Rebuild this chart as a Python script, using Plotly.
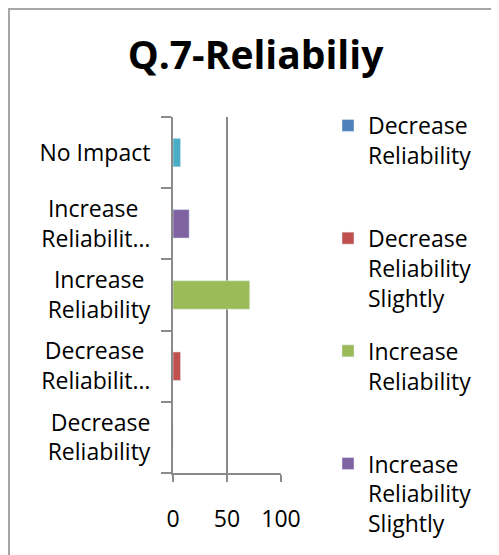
import plotly.graph_objects as go

categories = ["Decrease Reliability", "Decrease Reliability Slightly", "Increase Reliability",
              "Increase Reliability Slightly", "No Impact"]
values = [0, 7, 71, 15, 7]
colors = ["#4F81BD", "#C0504D", "#9BBB59", "#8064A2", "#4BACC6"]
legend_labels = ["Decrease<br>Reliability<br>\u00a0", "Decrease<br>Reliability<br>Slightly",
                 "Increase<br>Reliability<br>\u00a0", "Increase<br>Reliability<br>Slightly", "No Impact"]
tick_labels = ["Decrease<br>Reliability", "Decrease\u00a0<br>Reliabilit…", "Increase\u00a0<br>Reliability",
               "Increase\u00a0\u00a0<br>Reliabilit…", "No Impact"]
x_ticks = [0, 50, 100]

FONT = "Open Sans, Lato, sans-serif"
GRAY = "#8a8a8a"

fig = go.Figure()
for cat, val, col, lab in zip(categories, values, colors, legend_labels):
    fig.add_trace(go.Bar(y=[cat], x=[val], orientation="h", name=lab, marker_color=col,
                         width=0.4, legendgroup=cat))

# page body has an 8px margin; figure sized to fit the window
W, H = 491, 547
L, R, T, B = 165, 218, 109, 82
pw, ph = W - L - R, H - T - B

def px_x(p):
    return (p - L) / pw

def px_y(p):
    return (H - B - p) / ph

fig.update_layout(
    width=W, height=H,
    margin=dict(l=L, r=R, t=T, b=B, autoexpand=False),
    paper_bgcolor="white", plot_bgcolor="white",
    barmode="relative",
    font=dict(family=FONT, size=23, color="black"),
    title=dict(text="<b>Q.7-Reliabiliy</b>", x=247.5 / W, xanchor="center",
               y=1 - 47 / H, yanchor="middle", font=dict(size=39, family=FONT)),
    xaxis=dict(range=[0, 100], tickvals=x_ticks, ticktext=[str(v) for v in x_ticks],
               showgrid=True, gridcolor=GRAY, gridwidth=2, zeroline=False,
               showline=True, linecolor=GRAY, linewidth=2,
               ticks="outside", ticklen=7, tickcolor=GRAY, tickwidth=2,
               ticklabelstandoff=17, fixedrange=True),
    yaxis=dict(type="category", categoryorder="array", categoryarray=categories,
               tickvals=categories, ticktext=tick_labels,
               showline=True, linecolor=GRAY, linewidth=2, showgrid=False,
               ticks="outside", tickson="boundaries", ticklen=10, tickcolor=GRAY, tickwidth=2,
               ticklabelstandoff=16, fixedrange=True),
    legend=dict(x=px_x(320), xanchor="left", y=px_y(96), yanchor="top",
                traceorder="grouped", tracegroupgap=20, valign="top",
                font=dict(size=23, family=FONT), maxheight=3000,
                bgcolor="rgba(0,0,0,0)"),
    shapes=[dict(type="rect", xref="paper", yref="paper",
                 x0=px_x(1), x1=px_x(600), y0=px_y(700), y1=px_y(1),
                 line=dict(color="#a6a6a6", width=2), layer="below")],
)

fig.write_html("out.html")
